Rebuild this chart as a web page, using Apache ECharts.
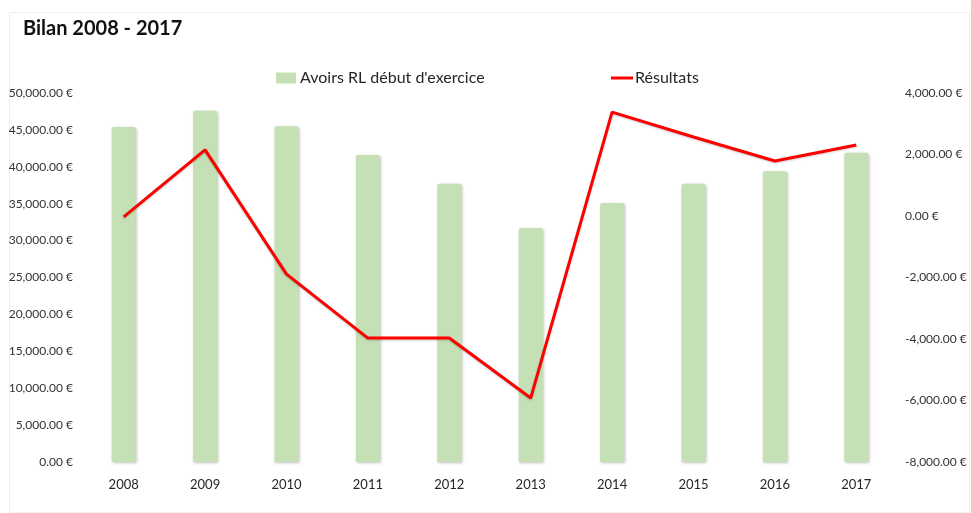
<!DOCTYPE html>
<html>
<head>
<meta charset="utf-8">
<script src="https://cdn.jsdelivr.net/npm/echarts@6/dist/echarts.min.js"></script>
<style>
html,body{margin:0;padding:0;background:#fff;}
#chart{width:971px;height:513px;}
</style>
</head>
<body>
<div id="chart"></div>
<script>
const categories = ['2008','2009','2010','2011','2012','2013','2014','2015','2016','2017'];
const avoirs = [45400, 47600, 45500, 41600, 37700, 31700, 35100, 37700, 39400, 41900];
const resultats = [-30, 2150, -1890, -3970, -3970, -5920, 3380, 2570, 1790, 2310];
const leftTicks = {min: 0, max: 50000, interval: 5000};
const rightTicks = {min: -8000, max: 4000, interval: 2000};

function eur(v){
  const s = Math.abs(v).toFixed(2).replace(/\B(?=(\d{3})+(?!\d))/g, ',');
  return (v < 0 ? '-' : '') + s + ' €';
}

const chart = echarts.init(document.getElementById('chart'));
chart.setOption({
  backgroundColor: '#fff',
  textStyle: {fontFamily: 'Lato'},
  animation: false,
  graphic: [{
    type: 'rect', left: 7, top: 10, shape: {width: 960, height: 500},
    style: {fill: 'none', stroke: '#f0f0f0', lineWidth: 1}, silent: true
  }],
  title: {
    text: 'Bilan 2008 - 2017', left: 18, top: 14,
    textStyle: {fontFamily: 'Lato', fontWeight: 'bold', fontSize: 20, color: '#111'}
  },
  legend: [{
    left: 276, top: 70, padding: 0, itemWidth: 20, itemHeight: 11,
    textStyle: {fontFamily: 'Lato', fontSize: 16, color: '#262626', padding: [0,0,0,-1]},
    data: [{name: "Avoirs RL début d'exercice", icon: 'rect'}]
  }, {
    left: 611, top: 70, padding: 0, itemWidth: 22, itemHeight: 3,
    textStyle: {fontFamily: 'Lato', fontSize: 16, color: '#262626', padding: [0,0,0,-3]},
    data: [{name: 'Résultats', icon: 'rect'}]
  }],
  grid: {left: 83, right: 74, top: 93, bottom: 51},
  xAxis: {
    type: 'category', data: categories,
    axisLine: {show: false}, axisTick: {show: false},
    axisLabel: {fontFamily: 'Lato', fontSize: 13, color: '#262626', margin: 16}
  },
  yAxis: [{
    type: 'value', min: leftTicks.min, max: leftTicks.max, interval: leftTicks.interval,
    splitLine: {show: false}, axisLine: {show: false}, axisTick: {show: false},
    axisLabel: {formatter: eur, fontFamily: 'Lato', fontSize: 12, color: '#333', margin: 10}
  }, {
    type: 'value', min: rightTicks.min, max: rightTicks.max, interval: rightTicks.interval,
    splitLine: {show: false}, axisLine: {show: false}, axisTick: {show: false},
    axisLabel: {formatter: eur, fontFamily: 'Lato', fontSize: 12, color: '#333', margin: 8}
  }],
  series: [{
    name: "Avoirs RL début d'exercice", type: 'bar', data: avoirs, barWidth: 24,
    itemStyle: {color: '#c5e0b4', borderRadius: [2,2,0,0],
      shadowColor: 'rgba(0,0,0,0.25)', shadowBlur: 3, shadowOffsetX: 1, shadowOffsetY: 1}
  }, {
    name: 'Résultats', type: 'line', yAxisIndex: 1, data: resultats,
    symbol: 'none', lineStyle: {color: '#ff0000', width: 3,
      shadowColor: 'rgba(0,0,0,0.2)', shadowBlur: 2, shadowOffsetY: 1},
    itemStyle: {color: '#ff0000'}
  }]
});
</script>
</body>
</html>
